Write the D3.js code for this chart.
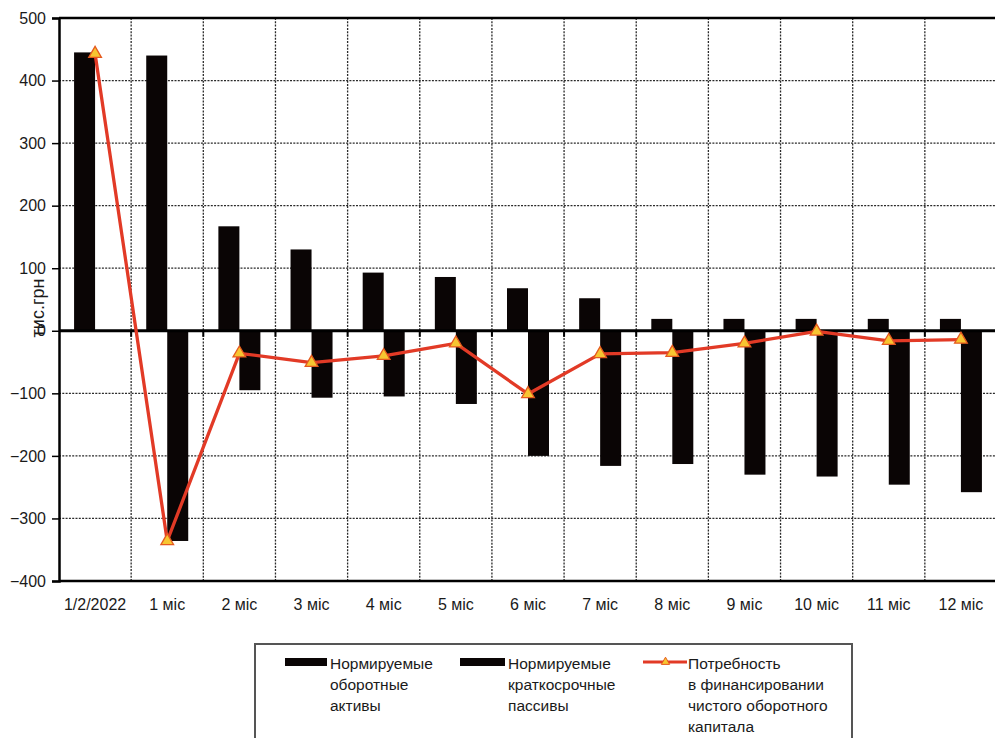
<!DOCTYPE html>
<html>
<head>
<meta charset="utf-8">
<script src="https://cdn.jsdelivr.net/npm/d3@7"></script>
<style>
  html, body { margin: 0; padding: 0; background: #fff; }
  svg { display: block; font-family: "Liberation Sans", Arial, sans-serif; }
</style>
</head>
<body>
<svg id="chart" width="995" height="738"></svg>
<script>
// Categories (periods) and series values, тис.грн
const categories = ["1/2/2022", "1 міс", "2 міс", "3 міс", "4 міс", "5 міс", "6 міс",
                    "7 міс", "8 міс", "9 міс", "10 міс", "11 міс", "12 міс"];
const assets      = [445, 440, 167, 130, 93, 86, 68, 52, 19, 19, 19, 19, 19];
const liabilities = [0, -336, -95, -107, -105, -117, -200, -216, -213, -230, -233, -246, -258];
const need        = [443, -336, -36, -51, -40, -20, -101, -37, -35, -20, -1, -16, -14];
const yTicks      = [500, 400, 300, 200, 100, 0, -100, -200, -300, -400];
const seriesNames = [
  ["Нормируемые", "оборотные", "активы"],
  ["Нормируемые", "краткосрочные", "пассивы"],
  ["Потребность", "в финансировании", "чистого оборотного", "капитала"]
];

const svg = d3.select("#chart");
const plot = { left: 59, right: 997, top: 18, bottom: 581 };

const x = d3.scaleBand().domain(categories).range([plot.left, plot.right]).padding(0);
const y = d3.scaleLinear().domain([-400, 500]).range([plot.bottom, plot.top]);
const xs = d3.scaleBand().domain(["a", "l"]).range([-21, 21]).padding(0);

const gridColor = "#2a2a2a";

// Horizontal dotted grid
svg.append("g").selectAll("line")
  .data(yTicks.filter(v => v !== 0 && v !== 500 && v !== -400))
  .join("line")
  .attr("x1", plot.left).attr("x2", plot.right)
  .attr("y1", d => y(d)).attr("y2", d => y(d))
  .attr("stroke", gridColor).attr("stroke-width", 1.3)
  .attr("stroke-dasharray", "2,1.3");

// Vertical dotted grid at category boundaries
svg.append("g").selectAll("line")
  .data(categories.slice(1))
  .join("line")
  .attr("x1", d => x(d)).attr("x2", d => x(d))
  .attr("y1", plot.top).attr("y2", plot.bottom)
  .attr("stroke", gridColor).attr("stroke-width", 1.3)
  .attr("stroke-dasharray", "2,1.3");

// Bars
const barFill = "#0a0505";
const groups = svg.append("g").selectAll("g")
  .data(categories)
  .join("g")
  .attr("transform", d => `translate(${x(d) + x.bandwidth() / 2},0)`);

groups.append("rect")
  .attr("x", xs("a"))
  .attr("width", xs.bandwidth())
  .attr("y", (d, i) => y(Math.max(0, assets[i])))
  .attr("height", (d, i) => Math.abs(y(assets[i]) - y(0)))
  .attr("fill", barFill);

groups.append("rect")
  .attr("x", xs("l"))
  .attr("width", xs.bandwidth())
  .attr("y", (d, i) => y(Math.max(0, liabilities[i])))
  .attr("height", (d, i) => Math.abs(y(liabilities[i]) - y(0)))
  .attr("fill", barFill);

// Frame: top and bottom borders
svg.append("line")
  .attr("x1", plot.left).attr("x2", plot.right)
  .attr("y1", plot.top).attr("y2", plot.top)
  .attr("stroke", "#000").attr("stroke-width", 2.5);
svg.append("line")
  .attr("x1", plot.left).attr("x2", plot.right)
  .attr("y1", plot.bottom).attr("y2", plot.bottom)
  .attr("stroke", "#000").attr("stroke-width", 2.5);

// Zero line with small ticks at category boundaries
svg.append("line")
  .attr("x1", plot.left).attr("x2", plot.right)
  .attr("y1", y(0)).attr("y2", y(0))
  .attr("stroke", "#000").attr("stroke-width", 3);
svg.append("g").selectAll("line")
  .data(categories.slice(1))
  .join("line")
  .attr("x1", d => x(d)).attr("x2", d => x(d))
  .attr("y1", y(0)).attr("y2", y(0) + 6)
  .attr("stroke", "#000").attr("stroke-width", 2);

// Y axis
const yAxis = svg.append("g")
  .attr("transform", `translate(${plot.left},0)`)
  .call(d3.axisLeft(y).tickValues(yTicks).tickFormat(d3.format("d")).tickSize(7).tickPadding(6));
yAxis.select(".domain").attr("stroke", "#000").attr("stroke-width", 2.5);
yAxis.selectAll(".tick line").attr("stroke", "#000").attr("stroke-width", 1.5);
yAxis.selectAll(".tick text")
  .attr("font-size", 16).attr("fill", "#1a1a1a")
  .attr("font-family", "'Liberation Sans', Arial, sans-serif");

// X axis labels
const xAxis = svg.append("g")
  .attr("transform", `translate(0,${plot.bottom})`)
  .call(d3.axisBottom(x).tickSize(0).tickPadding(18));
xAxis.select(".domain").remove();
xAxis.selectAll(".tick text")
  .attr("font-size", 16).attr("fill", "#1a1a1a")
  .attr("font-family", "'Liberation Sans', Arial, sans-serif");

// Y axis title
svg.append("text")
  .attr("transform", "translate(44,308) rotate(-90)")
  .attr("text-anchor", "middle")
  .attr("font-size", 18).attr("fill", "#1a1a1a")
  .text("тис.грн");

// Financing need line
const lineColor = "#e23a26";
const line = d3.line()
  .x((d, i) => x(categories[i]) + x.bandwidth() / 2)
  .y(d => y(d));
svg.append("path")
  .datum(need)
  .attr("d", line)
  .attr("fill", "none")
  .attr("stroke", lineColor)
  .attr("stroke-width", 3.3)
  .attr("stroke-linejoin", "round");

const tri = d3.symbol().type(d3.symbolTriangle).size(70);
svg.append("g").selectAll("path")
  .data(need)
  .join("path")
  .attr("d", tri)
  .attr("transform", (d, i) => `translate(${x(categories[i]) + x.bandwidth() / 2},${y(d)})`)
  .attr("fill", "#f7c531")
  .attr("stroke", "#e55a1f")
  .attr("stroke-width", 1.3);

// Legend
const legend = svg.append("g");
legend.append("rect")
  .attr("x", 255).attr("y", 644)
  .attr("width", 597).attr("height", 130)
  .attr("fill", "#fff")
  .attr("stroke", "#555").attr("stroke-width", 2);

const legendItems = [
  { sx: 285, tx: 330, kind: "bar" },
  { sx: 460, tx: 508, kind: "bar" },
  { sx: 643, tx: 688, kind: "line" }
];
legendItems.forEach((it, k) => {
  if (it.kind === "bar") {
    legend.append("rect")
      .attr("x", it.sx).attr("y", 658)
      .attr("width", it.tx - it.sx - 3).attr("height", 8)
      .attr("fill", barFill);
  } else {
    legend.append("line")
      .attr("x1", it.sx).attr("x2", it.tx - 1)
      .attr("y1", 662).attr("y2", 662)
      .attr("stroke", lineColor).attr("stroke-width", 3);
    legend.append("path")
      .attr("d", d3.symbol().type(d3.symbolTriangle).size(30))
      .attr("transform", `translate(${(it.sx + it.tx) / 2},662)`)
      .attr("fill", "#f7c531").attr("stroke", "#e55a1f").attr("stroke-width", 1);
  }
  const t = legend.append("text")
    .attr("x", it.tx).attr("y", 669)
    .attr("font-size", 15.5).attr("fill", "#1a1a1a");
  seriesNames[k].forEach((s, j) => {
    t.append("tspan").attr("x", it.tx).attr("dy", j === 0 ? 0 : 21).text(s);
  });
});
</script>
</body>
</html>
